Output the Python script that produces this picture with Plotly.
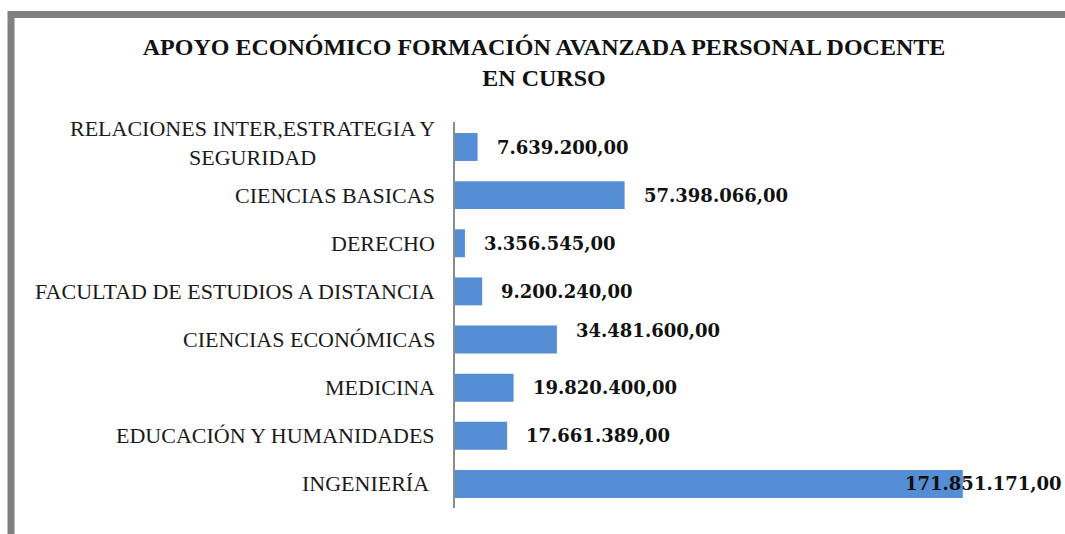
import plotly.graph_objects as go

categories = [
    "RELACIONES INTER,ESTRATEGIA Y<br>SEGURIDAD",
    "CIENCIAS BASICAS",
    "DERECHO",
    "FACULTAD DE ESTUDIOS A DISTANCIA",
    "CIENCIAS ECONÓMICAS",
    "MEDICINA",
    "EDUCACIÓN Y HUMANIDADES",
    "INGENIERÍA\u00a0",
]
values = [7639200, 57398066, 3356545, 9200240, 34481600, 19820400, 17661389, 171851171]
title_text = "APOYO ECONÓMICO FORMACIÓN AVANZADA PERSONAL DOCENTE<br>EN CURSO"


def fmt(v):
    s = f"{v:,.2f}"
    return s.replace(",", "X").replace(".", ",").replace("X", ".")


W, H = 1065, 534
ML, MT = 455, 122
MB = H - 508
PW = 591
MR = W - ML - PW
PH = H - MT - MB

fig = go.Figure()
fig.add_trace(go.Bar(
    y=categories, x=values, orientation="h",
    marker=dict(color="#558ED5", line=dict(width=0)),
    width=0.58, hoverinfo="skip",
))

annotations = []
for c, v in zip(categories, values):
    annotations.append(dict(
        x=0, xref="paper", y=c, yref="y", text=c, showarrow=False,
        xanchor="right", yanchor="middle", xshift=-18, align="center",
        yshift=4 if "<br>" in c else 0,
        font=dict(family="Liberation Serif", size=22, color="#1a1a1a"),
    ))
    big = v == max(values)
    annotations.append(dict(
        x=v, xref="x", y=c, yref="y", text="<b>" + fmt(v) + "</b>", showarrow=False,
        xanchor="left", yanchor="middle",
        xshift=-60 if big else 17,
        yshift=9 if c == "CIENCIAS ECONÓMICAS" else 0,
        font=dict(family="DejaVu Serif", size=18, color="#111111"),
    ))


def px_x(p):
    return (p - ML) / PW


def px_y(p):
    return (H - MB - p) / PH


fig.update_layout(
    width=W, height=H,
    margin=dict(l=ML, r=MR, t=MT, b=MB),
    paper_bgcolor="white", plot_bgcolor="white",
    showlegend=False,
    title=dict(
        text="<b>" + title_text + "</b>",
        x=544 / W, xanchor="center", xref="container",
        y=1 - 55 / H, yanchor="top", yref="container",
        font=dict(family="Liberation Serif", size=24, color="#111111"),
    ),
    xaxis=dict(range=[0, 200e6], showgrid=False, zeroline=False,
               showticklabels=False, showline=False, ticks=""),
    yaxis=dict(autorange="reversed", showgrid=False, zeroline=False,
               showticklabels=False, showline=True, linecolor="#8c8c8c",
               linewidth=2, ticks=""),
    annotations=annotations,
    shapes=[dict(
        type="rect", xref="paper", yref="paper",
        x0=px_x(11), x1=px_x(1200), y0=px_y(700), y1=px_y(14.5),
        line=dict(color="#808080", width=7), fillcolor="rgba(0,0,0,0)",
        layer="below",
    )],
)

fig.write_html(
    "out.html",
    config={"displayModeBar": False},
    post_script="document.body.style.margin='0';document.body.style.overflow='hidden';",
)
